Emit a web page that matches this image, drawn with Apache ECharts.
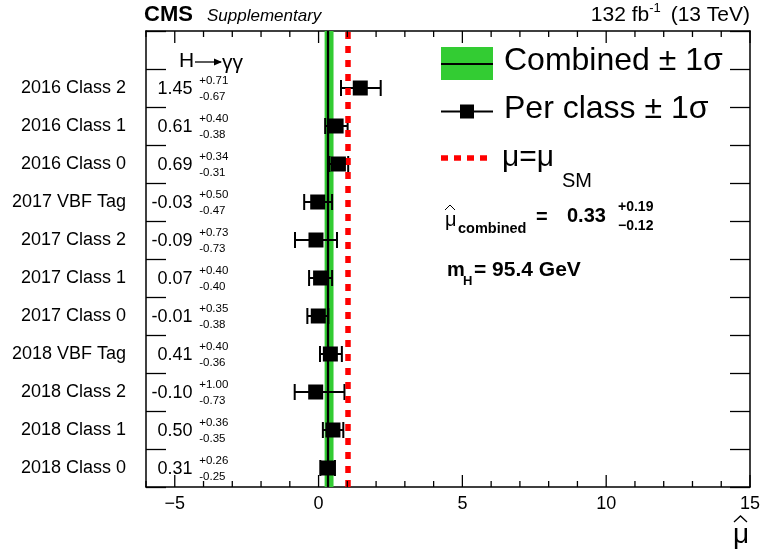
<!DOCTYPE html>
<html><head><meta charset="utf-8">
<script src="https://cdn.jsdelivr.net/npm/echarts@6/dist/echarts.min.js"></script>
<style>html,body{margin:0;padding:0;background:#fff}#c{width:761px;height:549px}</style>
</head><body><div id="c"></div>
<script>
// ---- data ----
const categories = ['2016 Class 2','2016 Class 1','2016 Class 0','2017 VBF Tag','2017 Class 2','2017 Class 1','2017 Class 0','2018 VBF Tag','2018 Class 2','2018 Class 1','2018 Class 0'];
const muValues = [1.45, 0.61, 0.69, -0.03, -0.09, 0.07, -0.01, 0.41, -0.10, 0.50, 0.31];
const errUp    = [0.71, 0.40, 0.34, 0.50, 0.73, 0.40, 0.35, 0.40, 1.00, 0.36, 0.26];
const errDown  = [0.67, 0.38, 0.31, 0.47, 0.73, 0.40, 0.38, 0.36, 0.73, 0.35, 0.25];
const combinedMu = 0.33, combinedUp = 0.19, combinedDown = 0.12;
const muSM = 1;
const mH = 95.4;
const xMin = -6, xMax = 15;
const xMajorTicks = [-5, 0, 5, 10, 15];
const xMinorTicks = [-6, -4, -3, -2, -1, 1, 2, 3, 4, 6, 7, 8, 9, 11, 12, 13, 14];

// ---- chart ----
const W = 761, H = 549;
const F = '"Liberation Sans", Arial, Helvetica, sans-serif';
const chart = echarts.init(document.getElementById('c'), null, {renderer: 'canvas'});
const nRows = categories.length;
const yCats = categories.slice().reverse().concat(['']);
const yIdx = i => nRows - 1 - i;
const fmt = v => (v < 0 ? '\u2212' + Math.abs(v) : String(v));
const lineBlack = {color: '#000', width: 1.5};
const tickStyle = {color: '#000', width: 1.3};
const GRID = {left: 146, right: 11, top: 31, bottom: 62};

const labelX = -4.38, supX = -4.15;

function hat(x, y, w, h, lw) {
  return {type: 'polyline', shape: {points: [[x, y + h], [x + w / 2, y], [x + w, y + h]]},
    style: {stroke: '#000', lineWidth: lw, fill: null}};
}

const graphics = [
  {type: 'text', x: 144, y: 15, style: {text: 'CMS', font: 'bold 22px ' + F, fill: '#000', verticalAlign: 'middle'}},
  {type: 'text', x: 207, y: 16, style: {text: 'Supplementary', font: 'italic 17px ' + F, fill: '#000', verticalAlign: 'middle'}},
  {type: 'text', x: 750, y: 15, style: {text: '{a|132 fb}{s|-1}{a| (13 TeV)}', align: 'right', verticalAlign: 'middle',
    rich: {a: {font: '21px ' + F, fill: '#000'}, s: {font: '13px ' + F, fill: '#000', padding: [0, 4, 14, 0]}}}},
  // H -> gamma gamma
  {type: 'text', x: 179, y: 61, style: {text: 'H', font: '21px ' + F, fill: '#000', verticalAlign: 'middle'}},
  {type: 'line', shape: {x1: 195, y1: 62, x2: 221, y2: 62}, style: {stroke: '#000', lineWidth: 1.3}},
  {type: 'polygon', shape: {points: [[222, 62], [214, 58.5], [214, 65.5]]}, style: {fill: '#000'}},
  {type: 'text', x: 222, y: 63, style: {text: '\u03b3\u03b3', font: '21px ' + F, fill: '#000', verticalAlign: 'middle'}},
  // legend
  {type: 'rect', shape: {x: 441, y: 47, width: 52, height: 33}, style: {fill: '#33CC33'}},
  {type: 'line', shape: {x1: 441, y1: 64, x2: 493, y2: 64}, style: {stroke: '#000', lineWidth: 2}},
  {type: 'text', x: 504, y: 61, style: {text: 'Combined \u00b1 1\u03c3', font: '32px ' + F, fill: '#000', verticalAlign: 'middle'}},
  {type: 'line', shape: {x1: 441, y1: 111.5, x2: 493, y2: 111.5}, style: {stroke: '#000', lineWidth: 2}},
  {type: 'rect', shape: {x: 460, y: 104.5, width: 14, height: 14}, style: {fill: '#000'}},
  {type: 'text', x: 504, y: 109, style: {text: 'Per class \u00b1 1\u03c3', font: '32px ' + F, fill: '#000', verticalAlign: 'middle'}},
  {type: 'line', shape: {x1: 441, y1: 158, x2: 493, y2: 158}, style: {stroke: '#ff0000', lineWidth: 5.5, lineDash: [7, 6]}},
  {type: 'text', x: 502, y: 158, style: {text: '\u03bc=\u03bc', font: '30px ' + F, fill: '#000', verticalAlign: 'middle'}},
  {type: 'text', x: 562, y: 181, style: {text: 'SM', font: '20px ' + F, fill: '#000', verticalAlign: 'middle'}},
  // combined result
  {type: 'text', x: 445, y: 220, style: {text: '\u03bc', font: '20px ' + F, fill: '#000', verticalAlign: 'middle'}},
  hat(445, 205, 10, 5, 1),
  {type: 'text', x: 458, y: 229, style: {text: 'combined', font: 'bold 14.5px ' + F, fill: '#000', verticalAlign: 'middle'}},
  {type: 'text', x: 536, y: 217, style: {text: '=', font: 'bold 20px ' + F, fill: '#000', verticalAlign: 'middle'}},
  {type: 'text', x: 567, y: 216, style: {text: combinedMu.toFixed(2), font: 'bold 20px ' + F, fill: '#000', verticalAlign: 'middle'}},
  {type: 'text', x: 618, y: 207, style: {text: '+' + combinedUp.toFixed(2), font: 'bold 14px ' + F, fill: '#000', verticalAlign: 'middle'}},
  {type: 'text', x: 618, y: 226, style: {text: '\u2212' + combinedDown.toFixed(2), font: 'bold 14px ' + F, fill: '#000', verticalAlign: 'middle'}},
  {type: 'text', x: 447, y: 270, style: {text: 'm', font: 'bold 20px ' + F, fill: '#000', verticalAlign: 'middle'}},
  {type: 'text', x: 463, y: 281, style: {text: 'H', font: 'bold 13px ' + F, fill: '#000', verticalAlign: 'middle'}},
  {type: 'text', x: 474, y: 270, style: {text: '= ' + mH.toFixed(1) + ' GeV', font: 'bold 21px ' + F, fill: '#000', verticalAlign: 'middle'}},
  // axis title
  {type: 'text', x: 733, y: 535, style: {text: '\u03bc', font: '28px ' + F, fill: '#000', verticalAlign: 'middle'}},
  hat(734, 516, 13, 6, 1.3)
];

const option = {
  animation: false,
  backgroundColor: '#fff',
  grid: Object.assign({containLabel: false, outerBoundsMode: 'none'}, GRID),
  xAxis: [
    {type: 'value', min: xMin, max: xMax, position: 'bottom', splitLine: {show: false},
      axisLine: {show: true, onZero: false, lineStyle: lineBlack},
      axisTick: {show: false},
      axisLabel: {show: true, customValues: xMajorTicks, formatter: fmt, fontSize: 18, color: '#000', fontFamily: F, margin: 8}},
    {type: 'value', min: xMin, max: xMax, position: 'top', splitLine: {show: false},
      axisLine: {show: true, onZero: false, lineStyle: lineBlack},
      axisTick: {show: false}, axisLabel: {show: false}}
  ],
  yAxis: [
    {type: 'category', data: yCats, position: 'left', boundaryGap: true,
      axisLine: {show: true, onZero: false, lineStyle: lineBlack},
      axisTick: {show: true, inside: true, length: 20, alignWithLabel: false, interval: 0, lineStyle: tickStyle},
      axisLabel: {show: true, interval: 0, fontSize: 18, color: '#000', fontFamily: F, margin: 20},
      splitLine: {show: false}},
    {type: 'category', data: yCats, position: 'right', boundaryGap: true,
      axisLine: {show: true, onZero: false, lineStyle: lineBlack},
      axisTick: {show: true, inside: true, length: 20, alignWithLabel: false, interval: 0, lineStyle: tickStyle},
      axisLabel: {show: false}, splitLine: {show: false}}
  ],
  series: [
    {type: 'scatter', data: [], xAxisIndex: 0, yAxisIndex: 0, z: 1, silent: true,
      markArea: {silent: true, itemStyle: {color: '#33CC33'}, label: {show: false},
        data: [[{xAxis: combinedMu - combinedDown}, {xAxis: combinedMu + combinedUp}]]}},
    {type: 'scatter', data: [], xAxisIndex: 0, yAxisIndex: 0, z: 2, silent: true,
      markLine: {silent: true, symbol: 'none', label: {show: false}, animation: false,
        lineStyle: {color: '#000', width: 2.3, type: 'solid'}, emphasis: {disabled: true},
        data: [{xAxis: combinedMu}]}},
    {type: 'scatter', data: [], xAxisIndex: 0, yAxisIndex: 0, z: 3, silent: true,
      markLine: {silent: true, symbol: 'none', label: {show: false}, animation: false,
        lineStyle: {color: '#ff0000', width: 5.5, type: [7, 7]}, emphasis: {disabled: true},
        data: [{xAxis: muSM}]}},
    {type: 'custom', xAxisIndex: 0, yAxisIndex: 0, z: 4, silent: true,
      encode: {x: [0, 2], y: 1},
      data: categories.map((c, i) => [muValues[i] - errDown[i], yIdx(i), muValues[i] + errUp[i]]),
      renderItem: function (params, api) {
        const y = api.value(1);
        const a = api.coord([api.value(0), y]);
        const b = api.coord([api.value(2), y]);
        const h = 8;
        const st = {stroke: '#000', lineWidth: 2};
        return {type: 'group', children: [
          {type: 'line', shape: {x1: a[0], y1: a[1], x2: b[0], y2: b[1]}, style: st},
          {type: 'line', shape: {x1: a[0], y1: a[1] - h, x2: a[0], y2: a[1] + h}, style: st},
          {type: 'line', shape: {x1: b[0], y1: b[1] - h, x2: b[0], y2: b[1] + h}, style: st}
        ]};
      }},
    {type: 'scatter', xAxisIndex: 0, yAxisIndex: 0, z: 5, silent: true,
      symbol: 'rect', symbolSize: 15, itemStyle: {color: '#000', opacity: 1},
      data: categories.map((c, i) => [muValues[i], yIdx(i)])},
    {type: 'custom', xAxisIndex: 0, yAxisIndex: 0, z: 6, silent: true,
      encode: {x: 0, y: 1},
      data: categories.map((c, i) => [labelX, yIdx(i)]),
      renderItem: function (params, api) {
        const i = params.dataIndex;
        const y = api.value(1);
        const p = api.coord([labelX, y]);
        const q = api.coord([supX, y]);
        return {type: 'group', children: [
          {type: 'text', x: p[0], y: p[1] + 1, style: {text: muValues[i].toFixed(2), font: '18px ' + F, fill: '#000', align: 'right', verticalAlign: 'middle'}},
          {type: 'text', x: q[0], y: q[1] - 7, style: {text: '+' + errUp[i].toFixed(2), font: '11.5px ' + F, fill: '#000', align: 'left', verticalAlign: 'middle'}},
          {type: 'text', x: q[0], y: q[1] + 9, style: {text: '-' + errDown[i].toFixed(2), font: '11.5px ' + F, fill: '#000', align: 'left', verticalAlign: 'middle'}}
        ]};
      }}
  ],
  graphic: graphics
};
chart.setOption(option);

// inward x-axis ticks (top and bottom) at the axis' tick values
(function addTicks() {
  const yt = GRID.top, yb = H - GRID.bottom;
  const x0 = GRID.left, x1 = W - GRID.right;
  const toPx = v => {
    let px = NaN;
    try { px = Number(chart.convertToPixel({xAxisIndex: 0}, v)); } catch (e) {}
    if (!isFinite(px) || px < x0 - 2 || px > x1 + 2) px = x0 + (v - xMin) / (xMax - xMin) * (x1 - x0);
    return px;
  };
  const ticks = [];
  const add = (v, len) => {
    const px = toPx(v);
    ticks.push({type: 'line', z: 95, shape: {x1: px, y1: yb, x2: px, y2: yb - len}, style: {stroke: '#000', lineWidth: 1.3}});
    ticks.push({type: 'line', z: 95, shape: {x1: px, y1: yt, x2: px, y2: yt + len}, style: {stroke: '#000', lineWidth: 1.3}});
  };
  xMajorTicks.forEach(v => add(v, 12));
  xMinorTicks.forEach(v => add(v, 6));
  option.graphic = graphics.concat(ticks);
  chart.setOption(option, true);
})();
</script></body></html>
